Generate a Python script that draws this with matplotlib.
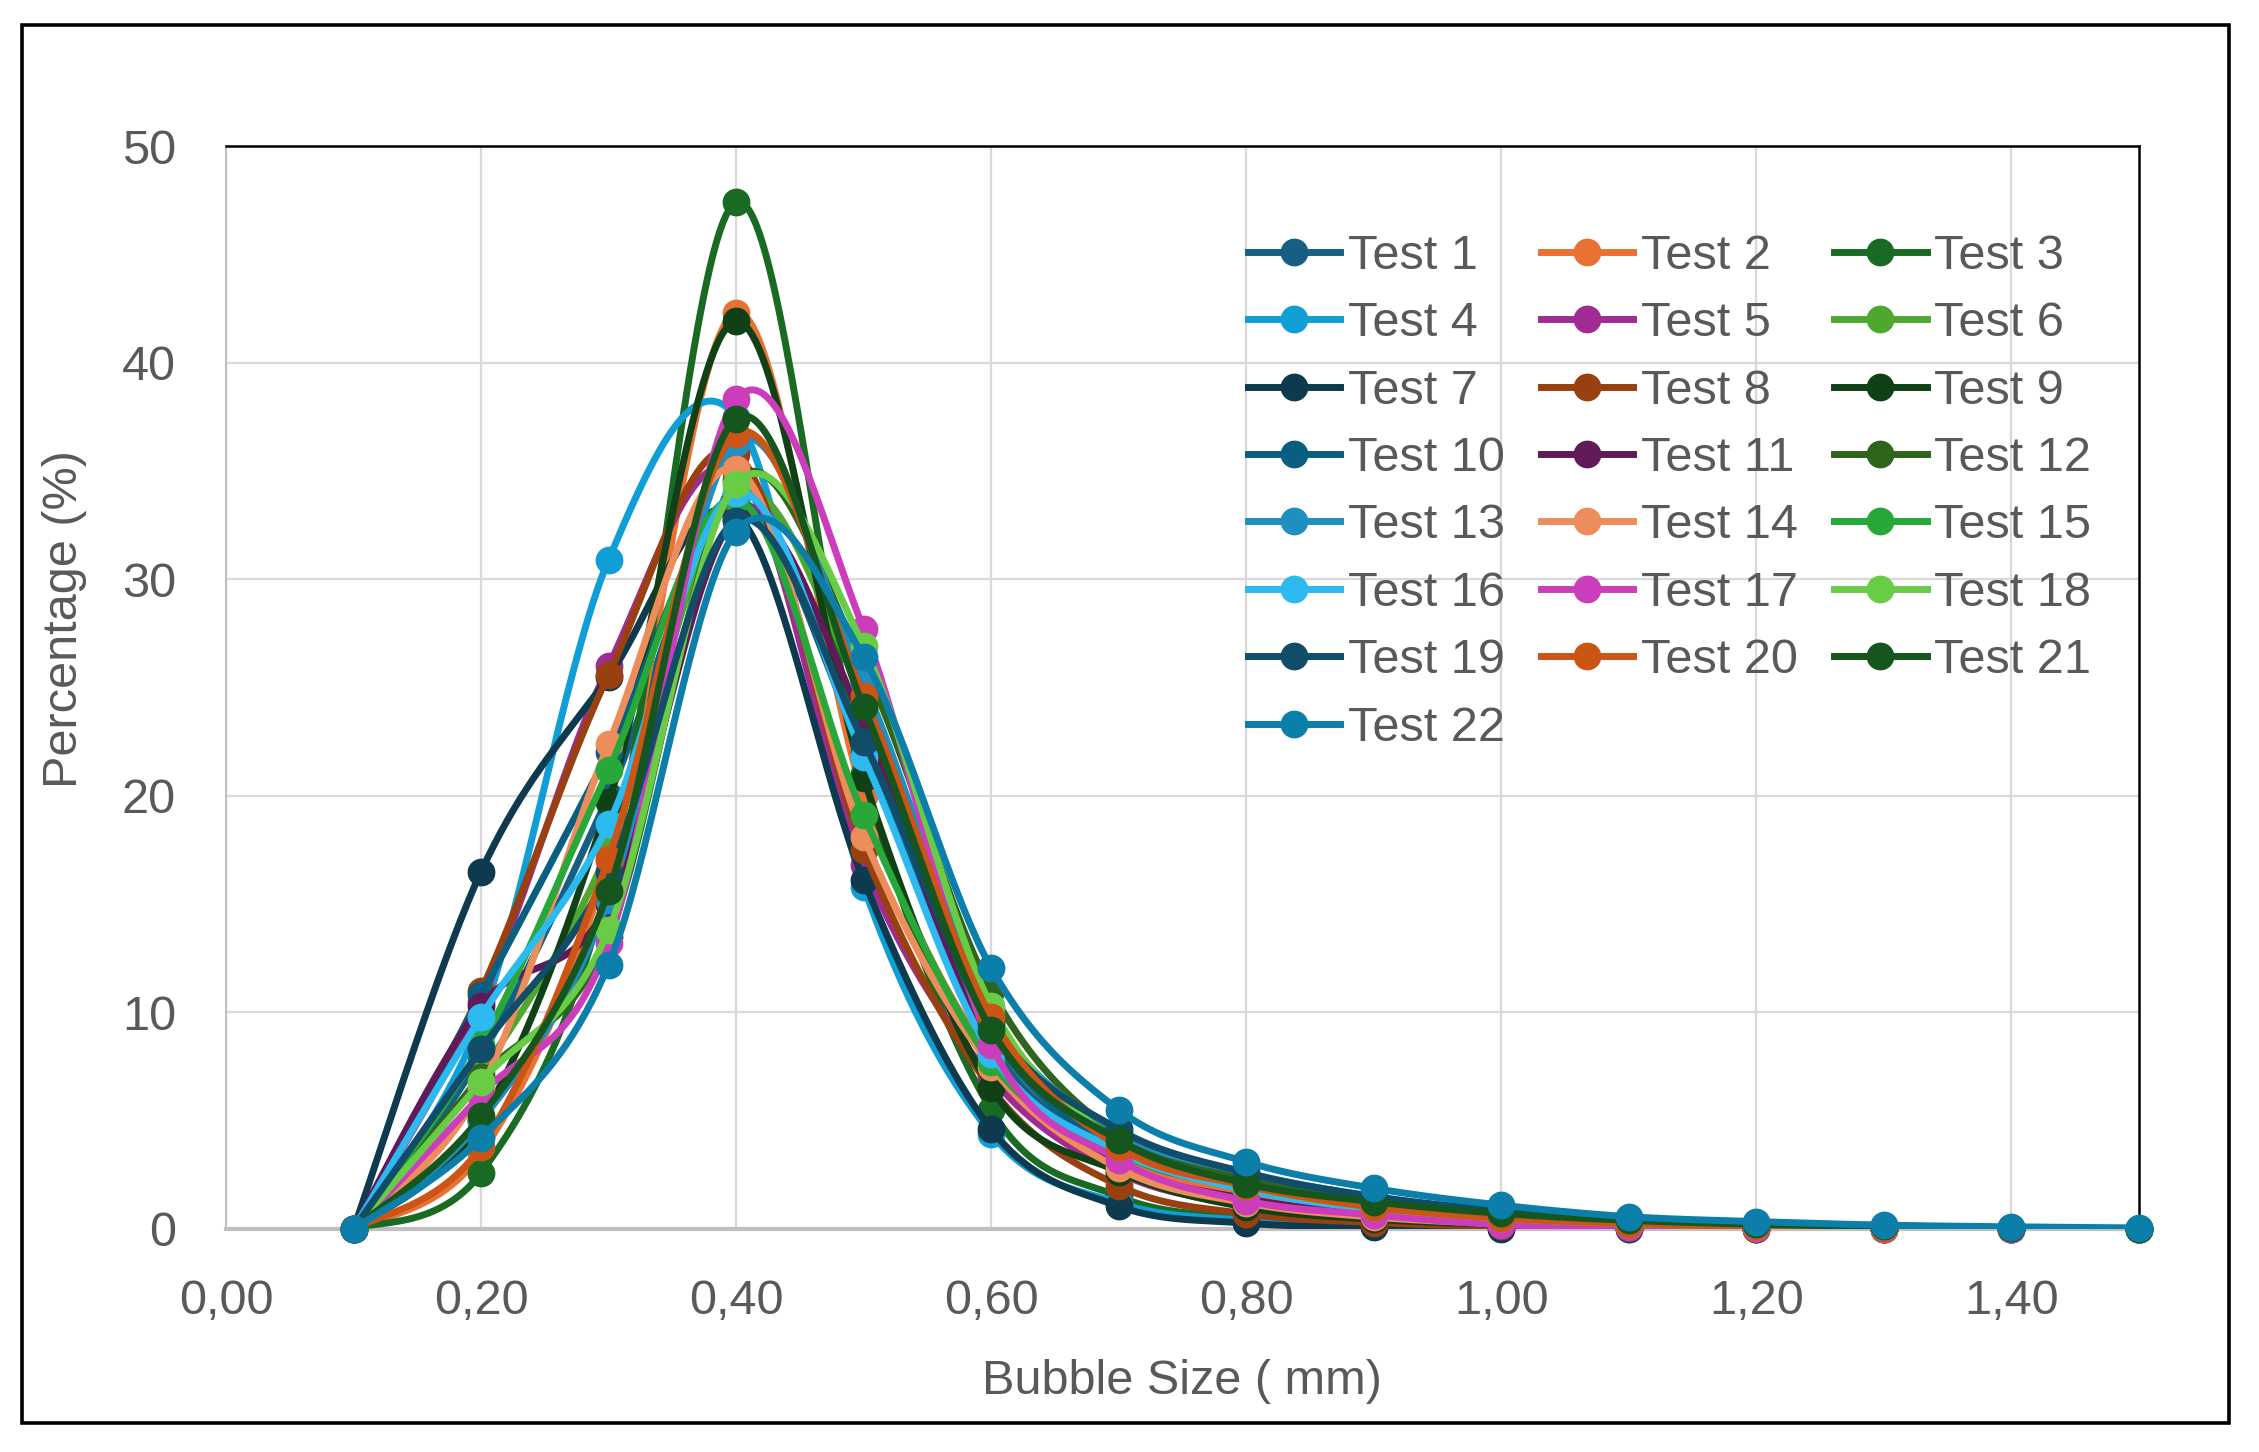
import colorsys

import numpy as np
import matplotlib
matplotlib.use("Agg")
import matplotlib.pyplot as plt
from matplotlib.lines import Line2D
from matplotlib.patches import Rectangle
from matplotlib.ticker import FuncFormatter, MultipleLocator

# ---------- data ----------

bubble_size = [0.1, 0.2, 0.3, 0.4, 0.5, 0.6, 0.7, 0.8, 0.9, 1.0, 1.1, 1.2, 1.3, 1.4, 1.5]

test_1 = [0, 8.0, 20.0, 33.5, 22.5, 8.5, 3.5, 1.8, 0.9, 0.45, 0.22, 0.11, 0.05, 0.02, 0]
test_2 = [0, 3.5, 17.0, 42.3, 20.0, 7.8, 3.2, 1.6, 0.8, 0.4, 0.2, 0.1, 0.05, 0.02, 0]
test_3 = [0, 2.6, 16.0, 47.4, 21.0, 5.5, 1.5, 0.5, 0.2, 0.08, 0.03, 0.01, 0, 0, 0]
test_4 = [0, 9.7, 30.9, 37.5, 15.8, 4.4, 1.2, 0.4, 0.15, 0.05, 0.02, 0, 0, 0, 0]
test_5 = [0, 10.5, 26.0, 35.0, 16.8, 7.0, 2.6, 1.1, 0.5, 0.22, 0.1, 0.04, 0.02, 0, 0]
test_6 = [0, 7.2, 17.5, 34.0, 24.5, 9.6, 3.8, 2.0, 1.1, 0.6, 0.3, 0.15, 0.07, 0.03, 0]
test_7 = [0, 16.5, 25.5, 33.0, 16.1, 4.6, 1.05, 0.27, 0.08, 0.02, 0, 0, 0, 0, 0]
test_8 = [0, 11.0, 25.6, 35.8, 17.5, 6.5, 2.0, 0.7, 0.3, 0.12, 0.05, 0.02, 0, 0, 0]
test_9 = [0, 5.0, 19.7, 41.9, 20.8, 6.5, 2.65, 1.0, 0.45, 0.2, 0.09, 0.04, 0.02, 0, 0]
test_10 = [0, 10.8, 22.0, 33.5, 22.0, 9.0, 3.6, 1.9, 1.0, 0.5, 0.25, 0.12, 0.06, 0.03, 0]
test_11 = [0, 10.3, 15.0, 32.8, 23.4, 8.0, 3.0, 1.4, 0.7, 0.35, 0.17, 0.08, 0.04, 0.02, 0]
test_12 = [0, 7.0, 13.5, 34.6, 26.0, 11.0, 4.3, 2.4, 1.3, 0.7, 0.35, 0.18, 0.09, 0.04, 0]
test_13 = [0, 5.0, 15.2, 36.3, 25.2, 10.0, 4.5, 2.6, 1.5, 0.8, 0.4, 0.2, 0.1, 0.05, 0]
test_14 = [0, 6.5, 22.4, 35.1, 18.1, 7.5, 2.8, 1.2, 0.55, 0.25, 0.12, 0.05, 0.02, 0, 0]
test_15 = [0, 8.5, 21.2, 33.7, 19.1, 7.7, 3.5, 1.9, 1.0, 0.5, 0.25, 0.12, 0.06, 0.03, 0]
test_16 = [0, 9.8, 18.7, 34.0, 21.8, 8.1, 3.6, 1.8, 0.9, 0.45, 0.22, 0.1, 0.05, 0.02, 0]
test_17 = [0, 6.2, 13.2, 38.3, 27.7, 8.5, 3.2, 1.3, 0.65, 0.2, 0.1, 0.05, 0.02, 0, 0]
test_18 = [0, 6.8, 13.8, 34.4, 26.9, 10.3, 4.0, 2.0, 1.0, 0.5, 0.25, 0.12, 0.06, 0.03, 0]
test_19 = [0, 8.3, 16.5, 32.7, 22.5, 9.5, 4.6, 2.6, 1.5, 0.85, 0.45, 0.25, 0.12, 0.06, 0]
test_20 = [0, 3.8, 17.1, 36.7, 24.6, 9.8, 3.8, 2.0, 1.0, 0.5, 0.25, 0.12, 0.06, 0.03, 0]
test_21 = [0, 5.2, 15.6, 37.4, 24.1, 9.2, 4.1, 2.1, 1.26, 0.72, 0.4, 0.22, 0.12, 0.06, 0]
test_22 = [0, 4.2, 12.2, 32.2, 26.4, 12.05, 5.5, 3.1, 1.88, 1.1, 0.57, 0.34, 0.18, 0.1, 0.05]

series = [test_1, test_2, test_3, test_4, test_5, test_6, test_7, test_8,
          test_9, test_10, test_11, test_12, test_13, test_14, test_15,
          test_16, test_17, test_18, test_19, test_20, test_21, test_22]
labels = [f"Test {i}" for i in range(1, len(series) + 1)]

y_ticks = [0, 10, 20, 30, 40, 50]

# ---------- helpers ----------

ACCENTS = ["#156082", "#E97132", "#196B24", "#0F9ED5", "#A02B93", "#4EA72E"]
# office palette cycle: plain, darker 40%, lighter 20%, darker 20%
LUM_MODS = [(1.0, 0.0), (0.6, 0.0), (0.8, 0.2), (0.8, 0.0)]


def office_color(i):
    base = ACCENTS[i % 6]
    mod, off = LUM_MODS[(i // 6) % 4]
    r, g, b = matplotlib.colors.to_rgb(base)
    h, l, s = colorsys.rgb_to_hls(r, g, b)
    l = min(1.0, l * mod + off)
    return colorsys.hls_to_rgb(h, l, s)


def excel_smooth(xs, ys, n=40):
    """Bezier smoothing like Excel's 'smoothed line'."""
    pts = np.column_stack([xs, ys]).astype(float)
    out = []
    t = np.linspace(0, 1, n)[:, None]
    for i in range(len(pts) - 1):
        p0 = pts[i - 1] if i > 0 else pts[i]
        p1, p2 = pts[i], pts[i + 1]
        p3 = pts[i + 2] if i + 2 < len(pts) else pts[i + 1]
        c1 = p1 + (p2 - p0) / 6
        c2 = p2 - (p3 - p1) / 6
        seg = (1 - t) ** 3 * p1 + 3 * (1 - t) ** 2 * t * c1 + 3 * (1 - t) * t ** 2 * c2 + t ** 3 * p2
        out.append(seg if i == 0 else seg[1:])
    return np.vstack(out)


# ---------- plot ----------

plt.rcParams["font.family"] = ["Liberation Sans", "DejaVu Sans"]
TXT = "#595959"
FS = 35
LW, MS = 5, 19

W, H = 2259, 1452
fig = plt.figure(figsize=(W / 100, H / 100), dpi=100)
ax = fig.add_axes([226 / W, 1 - 1229 / H, (2139 - 226) / W, (1229 - 146) / H])

handles = []
for i, (vals, lab) in enumerate(zip(series, labels)):
    col = office_color(i)
    sm = excel_smooth(bubble_size, vals)
    z = 3 + i * 0.02
    ax.plot(sm[:, 0], sm[:, 1], color=col, lw=LW, solid_capstyle="round", zorder=z)
    ax.plot(bubble_size, vals, "o", color=col, ms=MS, zorder=z + 0.01, clip_on=False)
    handles.append(Line2D([], [], color=col, lw=LW, marker="o", ms=MS))

ax.set_xlim(0, 1.5)
ax.set_ylim(0, 50)
ax.xaxis.set_major_locator(MultipleLocator(0.2))
ax.set_yticks(y_ticks)
ax.xaxis.set_major_formatter(FuncFormatter(lambda v, p: f"{v:.2f}".replace(".", ",")))
ax.tick_params(length=0, labelsize=FS, colors=TXT)
ax.tick_params(axis="x", pad=36)
ax.tick_params(axis="y", pad=36)
ax.grid(True, color="#d9d9d9", lw=1.6, zorder=0)
ax.set_axisbelow(True)

for s in ("top", "right"):
    ax.spines[s].set_color("black")
    ax.spines[s].set_linewidth(1.8)
ax.spines["left"].set_color("#bfbfbf")
ax.spines["left"].set_linewidth(1.5)
ax.spines["bottom"].set_color("#bfbfbf")
ax.spines["bottom"].set_linewidth(3)
ax.spines["bottom"].set_zorder(2.5)

fig.text(1182 / W, 1 - 1382 / H, "Bubble Size ( mm)", ha="center", va="center",
         fontsize=FS, color=TXT)
fig.text(65 / W, 1 - 619 / H, "Percentage (%)", ha="center", va="center",
         rotation=90, fontsize=FS, color=TXT)

# legend reads row by row, matplotlib fills column by column
ncol = 3
order = [j for c in range(ncol) for j in range(c, len(handles), ncol)]
ax.legend([handles[j] for j in order], [labels[j] for j in order], ncol=ncol,
          loc="upper left", bbox_to_anchor=(1248 / W, 1 - 234 / H),
          bbox_transform=fig.transFigure, frameon=False, fontsize=FS,
          labelcolor=TXT, handlelength=1.9, handletextpad=0.15,
          columnspacing=0.75, labelspacing=0.46, borderpad=0, borderaxespad=0)

fig.patches.append(Rectangle((22 / W, 1 - 1423 / H), (2229 - 22) / W, (1423 - 25) / H,
                             transform=fig.transFigure, fill=False, ec="black", lw=2.6))

fig.savefig("out.png", dpi=100, facecolor="white")
